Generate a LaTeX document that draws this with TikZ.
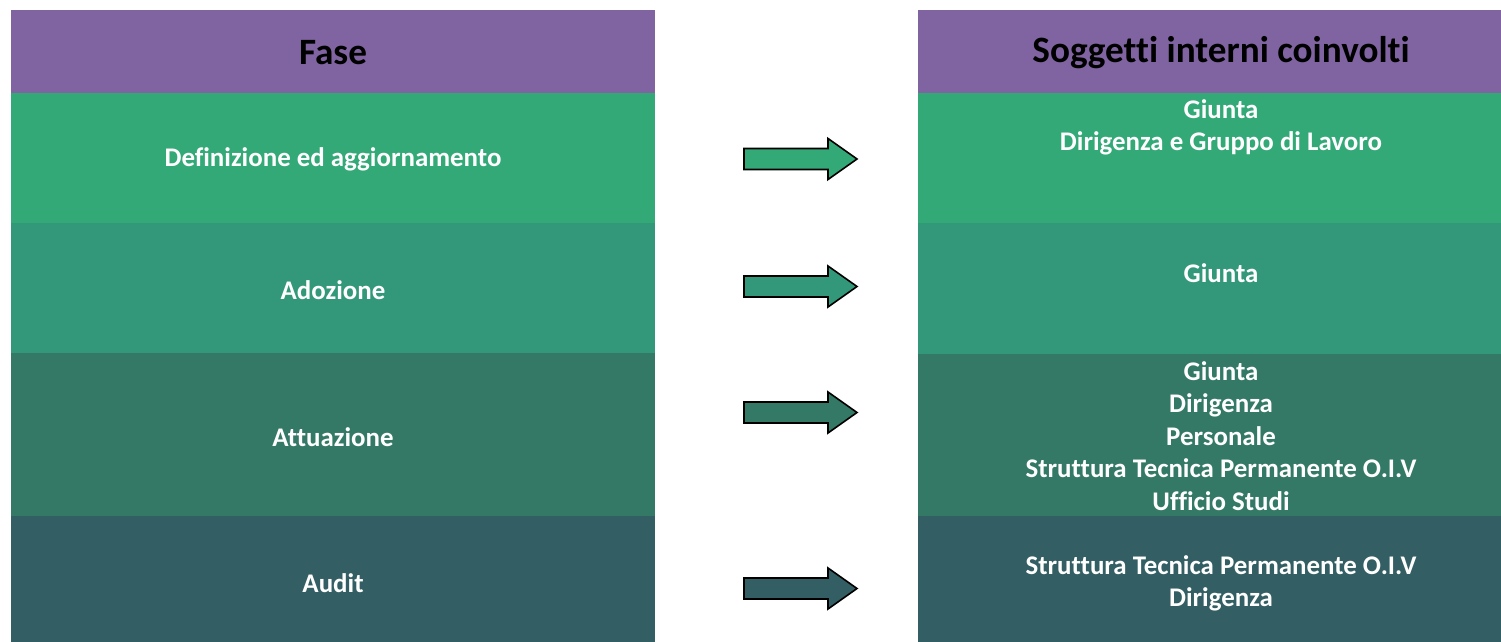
\documentclass[tikz,border=0pt]{standalone}
\usepackage{fontspec}
\setmainfont{Carlito}[Ligatures=NoCommon]
\definecolor{hdr}{RGB}{128,100,162}
\definecolor{rowA}{RGB}{51,169,119}
\definecolor{rowB}{RGB}{51,152,122}
\definecolor{rowC}{RGB}{51,121,102}
\definecolor{rowD}{RGB}{51,94,99}
\tikzset{
  cell/.style={draw=none, inner sep=0pt, anchor=north west},
  hdrtext/.style={inner sep=0pt, font=\fontsize{37.2}{42}\selectfont\bfseries, text=black},
  bodytext/.style={inner sep=0pt, align=center, font=\fontsize{26.9}{32.5}\selectfont\bfseries, text=white},
  blockarrow/.style={draw=black, line width=1.6pt, line join=miter}
}
\begin{document}
\begin{tikzpicture}[x=1pt,y=-1pt]
\useasboundingbox (0,0) rectangle (1501,642);
% left column
\node[cell, fill=hdr, minimum width=644pt, minimum height=83pt] (lh) at (11,10) {};
\node[cell, fill=rowA, minimum width=644pt, minimum height=130pt] (l1) at (11,93) {};
\node[cell, fill=rowB, minimum width=644pt, minimum height=130pt] (l2) at (11,223) {};
\node[cell, fill=rowC, minimum width=644pt, minimum height=163pt] (l3) at (11,353) {};
\node[cell, fill=rowD, minimum width=644pt, minimum height=126pt] (l4) at (11,516) {};
% right column
\node[cell, fill=hdr, minimum width=583pt, minimum height=83pt] (rh) at (918,10) {};
\node[cell, fill=rowA, minimum width=583pt, minimum height=130pt] (r1) at (918,93) {};
\node[cell, fill=rowB, minimum width=583pt, minimum height=131pt] (r2) at (918,223) {};
\node[cell, fill=rowC, minimum width=583pt, minimum height=162pt] (r3) at (918,354) {};
\node[cell, fill=rowD, minimum width=583pt, minimum height=126pt] (r4) at (918,516) {};
% header texts
\node[hdrtext] (th1) at (333,52.5) {Fase};
\node[hdrtext] (th2) at (1221,52.5) {Soggetti interni coinvolti};
% left texts
\node[bodytext] (tl1) at (333,159) {Definizione ed aggiornamento};
\node[bodytext] (tl2) at (333,290) {Adozione};
\node[bodytext] (tl3) at (333,437) {Attuazione};
\node[bodytext] (tl4) at (333,583) {Audit};
% right texts
\node[bodytext] (tr1) at (1221,127.5) {Giunta\\Dirigenza e Gruppo di Lavoro};
\node[bodytext] (tr2) at (1221,273) {Giunta};
\node[bodytext] (tr3) at (1221,436) {Giunta\\Dirigenza\\Personale\\Struttura Tecnica Permanente O.I.V\\Ufficio Studi};
\node[bodytext] (tr4) at (1221,583.5) {Struttura Tecnica Permanente O.I.V\\Dirigenza};
% block arrows
\foreach \cy/\col in {159/rowA, 286.5/rowB, 412.5/rowC, 588.5/rowD}{
  \draw[blockarrow, fill=\col] (744,\cy-10.5) -- (828,\cy-10.5) -- (828,\cy-20.5) -- (857,\cy) -- (828,\cy+20.5) -- (828,\cy+10.5) -- (744,\cy+10.5) -- cycle;
}
\end{tikzpicture}
\end{document}
